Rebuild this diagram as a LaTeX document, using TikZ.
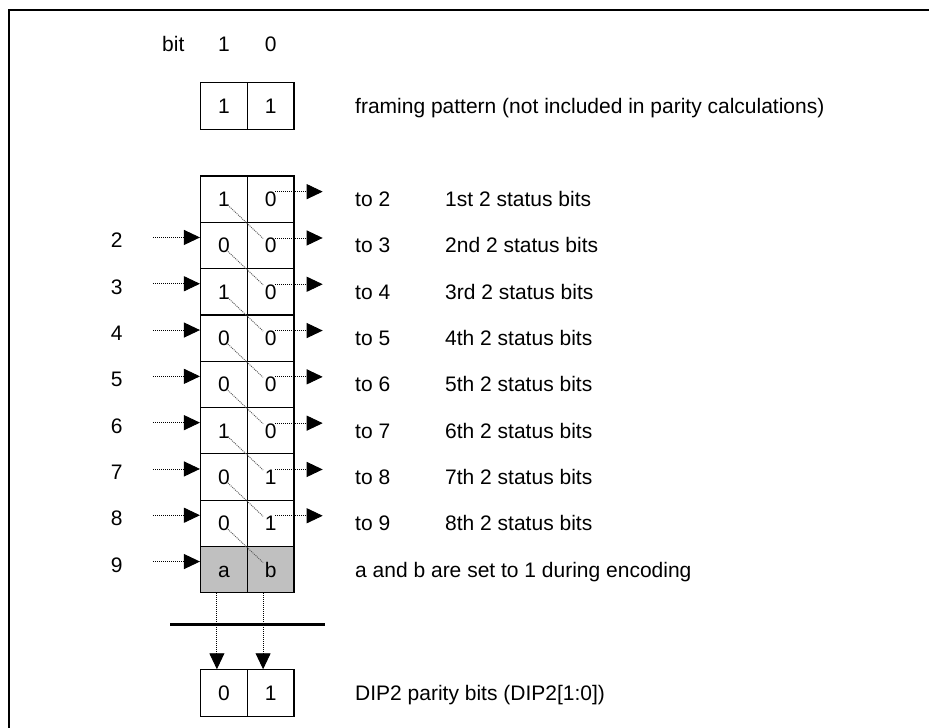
\documentclass[tikz,border=0pt]{standalone}
\usepackage{fontspec}
\setmainfont{Liberation Sans}
\usetikzlibrary{arrows.meta,calc}
\definecolor{cellgray}{HTML}{C0C0C0}
\definecolor{dotgray}{HTML}{5A5A5A}
\tikzset{
cell/.style={draw,line width=1.2pt,minimum width=46.7pt,minimum height=46.3pt,inner sep=0pt,text height=15pt,text depth=0pt},
shaded/.style={cell,fill=cellgray},
lbl/.style={inner sep=0pt,text height=15pt,text depth=0pt},
note/.style={lbl,anchor=west},
dotline/.style={line width=.9pt,dash pattern=on 1pt off 1pt},
dotarr/.style={dotline,-{Triangle[length=16pt,width=15pt]}}}

\begin{document}
\begin{tikzpicture}[x=1pt,y=-1pt,font=\fontsize{21}{25}\selectfont]
\useasboundingbox (0,0) rectangle (929,728);
\draw[line width=1.3pt] (929,10) -| (9,728);
\node[lbl] (bitlab) at (173.3,44) {bit};
\node[lbl] (bit1) at (223.9,44) {1};
\node[lbl] (bit0) at (270.6,44) {0};
\node[cell] (f1) at (223.9,106) {1};
\node[cell] (f0) at (270.6,106) {1};
\node[note] (framing) at (355,106) {framing pattern (not included in parity calculations)};
\foreach \a/\b/\t [count=\i] in {1/0/1st,0/0/2nd,1/0/3rd,0/0/4th,0/0/5th,1/0/6th,0/1/7th,0/1/8th}{
  \pgfmathsetmacro{\cy}{199.15+(\i-1)*46.3}
  \pgfmathtruncatemacro{\n}{\i+1}
  \node[cell] (l\i) at (223.9,\cy) {\a};
  \node[cell] (r\i) at (270.6,\cy) {\b};
  \node[note] (to\i) at (355,\cy) {to \n};
  \node[note] (st\i) at (445,\cy) {\t\ 2 status bits};
  \coordinate (out\i) at (322.7,\cy-7.5);
  \draw[dotarr] ($(r\i.center |- out\i)+(4.5,0)$) -- (out\i);
}
\node[shaded] (l9) at (223.9,569.55) {a};
\node[shaded] (r9) at (270.6,569.55) {b};
\node[note] (abnote) at (355,569.55) {a and b are set to 1 during encoding};
\foreach \i in {2,...,9}{
  \pgfmathsetmacro{\cy}{199.15+(\i-1)*46.3}
  \node[lbl] (in\i) at (116.7,\cy-5) {\i};
  \coordinate (src\i) at (153,\cy-8);
  \draw[dotarr] (src\i) -- (src\i -| l\i.west);
}
\foreach \i [evaluate=\i as \j using int(\i+1)] in {1,...,8}
  \draw[dotline,draw=dotgray] ([xshift=4pt,yshift=-6pt]l\i.center) -- ([xshift=-7.5pt,yshift=7pt]r\j.center);
\draw[line width=3pt] (170,624) -- (325,624);
\node[cell] (p1) at (223.9,693) {0};
\node[cell] (p0) at (270.6,693) {1};
\node[note] (dip) at (355,693) {DIP2 parity bits (DIP2[1:0])};
\draw[dotarr] ([xshift=-7pt]l9.south) -- ([xshift=-7pt]p1.north);
\draw[dotarr] ([xshift=-7.5pt]r9.south) -- ([xshift=-7.5pt]p0.north);
\end{tikzpicture}
\end{document}
